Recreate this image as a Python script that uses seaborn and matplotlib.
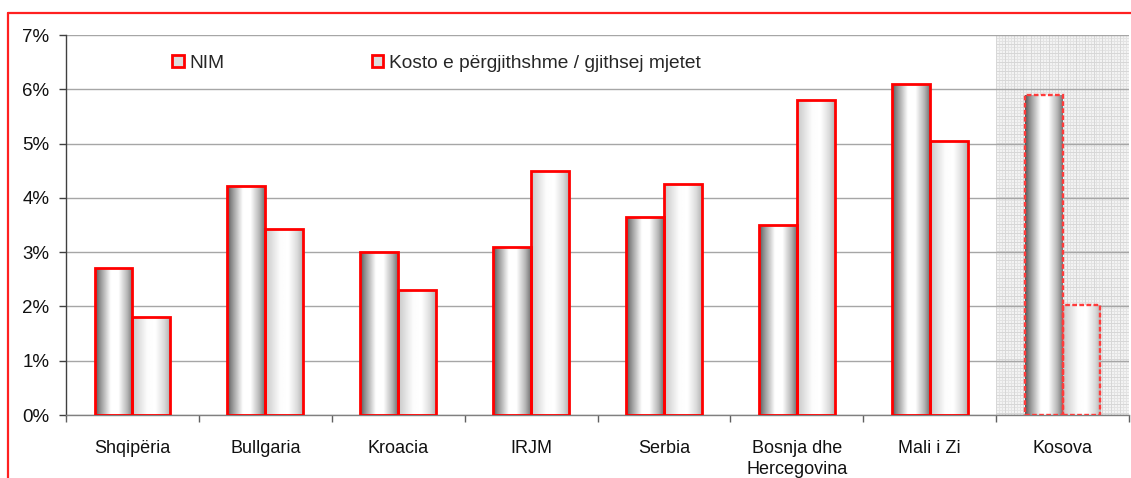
import numpy as np
import pandas as pd
import matplotlib
matplotlib.use("Agg")
import matplotlib.pyplot as plt
from matplotlib.patches import Rectangle
from matplotlib.lines import Line2D
from matplotlib.ticker import PercentFormatter, FixedLocator
import seaborn as sns

countries = ["Shqipëria", "Bullgaria", "Kroacia", "IRJM", "Serbia",
             "Bosnja dhe\nHercegovina", "Mali i Zi", "Kosova"]
series_names = ["NIM", "Kosto e përgjithshme / gjithsej mjetet"]
nim = [2.7, 4.22, 3.0, 3.1, 3.65, 3.5, 6.1, 5.9]
cost = [1.8, 3.42, 2.3, 4.5, 4.25, 5.8, 5.05, 2.03]
y_ticks = [0, 1, 2, 3, 4, 5, 6, 7]

df = pd.DataFrame({
    "country": countries * 2,
    "value": nim + cost,
    "series": [series_names[0]] * len(nim) + [series_names[1]] * len(cost),
})

sns.set_theme(style="white")
plt.rcParams["font.family"] = ["Liberation Sans", "DejaVu Sans"]

fig = plt.figure(figsize=(11.31, 4.78), dpi=100)
ax = fig.add_axes([66 / 1131, 63 / 478, 1063 / 1131, 380 / 478])

sns.barplot(data=df, x="country", y="value", hue="series", order=countries,
            hue_order=series_names, palette=["white", "white"], width=0.57,
            gap=0, edgecolor="#ff0000", linewidth=2.0, ax=ax, legend=False,
            errorbar=None)

# cylinder-like shading for each bar
def shade(stops, n=200):
    xs = np.linspace(0, 1, n)
    pos, val = zip(*stops)
    g = np.interp(xs, pos, val)
    return np.tile(g, (2, 1))

nim_stops = [(0, 0.33), (0.12, 0.55), (0.42, 1.0), (0.62, 1.0), (0.85, 0.72), (1.0, 0.45)]
cost_stops = [(0, 0.78), (0.4, 0.99), (0.62, 1.0), (0.85, 0.86), (1.0, 0.7)]

patches = [p for p in ax.patches if isinstance(p, Rectangle) and p.get_height() > 0]
n = len(countries)
for i, p in enumerate(patches):
    x0, w, h = p.get_x(), p.get_width(), p.get_height()
    stops = nim_stops if i < n else cost_stops
    im = ax.imshow(shade(stops), cmap="gray", vmin=0, vmax=1, aspect="auto",
                   extent=(x0, x0 + w, 0, h), zorder=2, interpolation="bilinear")
    im.set_clip_path(p)
    p.set_facecolor("none")
    p.set_zorder(3)
    if (i % n) == n - 1:
        p.set_edgecolor("#ff3b3b")
        p.set_linewidth(1.7)
        p.set_linestyle((0, (2.0, 1.0)))

# fine checked texture behind the Kosova group
tex_w, tex_h = 135, 380
cols = np.arange(tex_w)
rows = np.arange(tex_h)
line_c = np.where(cols % 9 == 0, 0.84, np.where(cols % 3 == 0, 0.89, 0.95))
line_r = np.where(rows % 9 == 0, 0.84, np.where(rows % 3 == 0, 0.89, 0.95))
texture = np.minimum(line_r[:, None], line_c[None, :])
ax.imshow(texture, cmap="gray", vmin=0, vmax=1, aspect="auto",
          extent=(n - 1.5, n - 0.5, 0, 7), zorder=0.1, interpolation="nearest")

ax.set_xlim(-0.5, n - 0.5)
ax.set_ylim(0, 7)
ax.set_yticks(y_ticks)
ax.yaxis.set_major_formatter(PercentFormatter(decimals=0))
ax.set_axisbelow(True)
ax.yaxis.grid(True, color="#a6a6a6", linewidth=1.0, zorder=0.5)
ax.xaxis.grid(False)

for s in ["top", "right"]:
    ax.spines[s].set_visible(False)
ax.spines["left"].set_color("#404040")
ax.spines["left"].set_linewidth(1.0)
ax.spines["bottom"].set_color("#808080")
ax.spines["bottom"].set_linewidth(1.0)

ax.set_xlabel("")
ax.set_ylabel("")
ax.tick_params(axis="y", which="major", direction="out", length=5, width=1,
               color="#404040", pad=7, labelsize=13.5, labelcolor="#111111", left=True)
ax.tick_params(axis="x", which="major", length=0, pad=18, labelsize=13,
               labelcolor="#111111")
ax.xaxis.set_minor_locator(FixedLocator(np.arange(-0.5, n, 1.0)))
ax.tick_params(axis="x", which="minor", direction="out", length=5, width=1,
               color="#606060", bottom=True)
for lab in ax.get_xticklabels():
    lab.set_linespacing(1.3)
    lab.set_verticalalignment("top")

handles = [Rectangle((0, 0), 1, 1, facecolor="#dcdcdc", edgecolor="#ff0000", linewidth=2.0)
           for _ in series_names]
ax.legend(handles, series_names, loc="center left",
          bbox_to_anchor=((172 - 66) / 1063, (415 - 63) / 380), ncol=2,
          frameon=False, fontsize=13.8, handlelength=0.6, handleheight=0.6,
          handletextpad=0.3, columnspacing=7.7, borderpad=0, borderaxespad=0)

# red frame around the figure
fig.add_artist(Line2D([8 / 1131, 1.0], [1 - 13 / 478, 1 - 13 / 478],
                      color="#ff2020", linewidth=1.6, transform=fig.transFigure))
fig.add_artist(Line2D([8 / 1131, 8 / 1131], [0, 1 - 13 / 478],
                      color="#ff2020", linewidth=1.6, transform=fig.transFigure))

fig.savefig("out.png", dpi=100, facecolor="white")
